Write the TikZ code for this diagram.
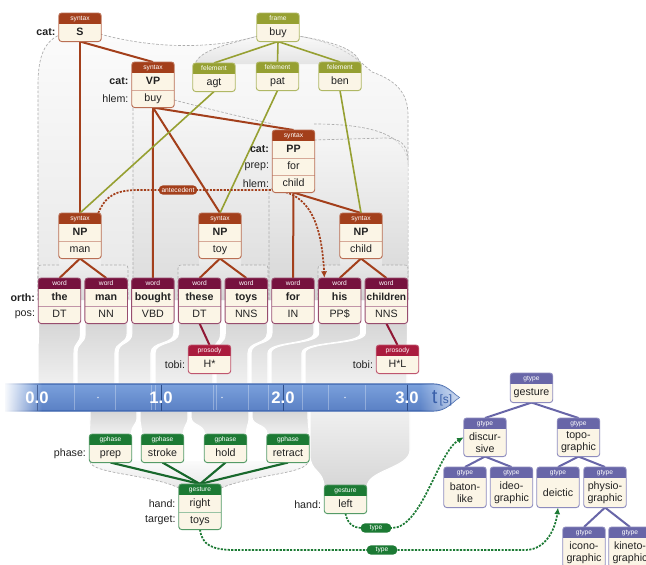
\documentclass[tikz,border=0pt]{standalone}
\usepackage{fontspec}
\setmainfont{Liberation Sans}
\usetikzlibrary{calc,arrows.meta,fadings}
\definecolor{synC}{RGB}{163,63,27}
\definecolor{frmC}{RGB}{150,160,50}
\definecolor{wrdC}{RGB}{118,18,62}
\definecolor{prsC}{RGB}{170,28,62}
\definecolor{gesC}{RGB}{28,122,52}
\definecolor{gtyC}{RGB}{104,102,168}
\definecolor{cream}{RGB}{251,245,230}
\definecolor{barTop}{RGB}{122,160,220}
\definecolor{barBot}{RGB}{90,128,196}
\definecolor{barLine}{RGB}{58,98,172}
\definecolor{tsC}{RGB}{58,96,170}
\definecolor{txtC}{RGB}{34,34,34}
\pgfdeclarelayer{bg}
\pgfdeclarelayer{lines}
\pgfsetlayers{bg,lines,main}
\tikzset{
 hdrtxt/.style={text=white, font=\fontsize{5}{5.5}\selectfont, inner sep=0pt},
 rowfix/.style={text height=6pt, text depth=1.7pt},
 rowtxt/.style={text=txtC, font=\fontsize{8}{9.2}\selectfont, inner sep=0pt, align=center, rowfix},
 lbl/.style={text=txtC, font=\fontsize{8}{9}\selectfont, inner sep=0pt, anchor=east},
 synE/.style={draw=synC, line width=1.5pt},
 prsE/.style={draw=prsC!85!black, line width=1.5pt},
 frmE/.style={draw=frmC, line width=1.2pt},
 gesE/.style={draw=gesC!85!black, line width=1.6pt},
 gtyE/.style={draw=gtyC, line width=1.5pt},
 dashA/.style={line width=1.3pt, dash pattern=on 1.6pt off 1pt, -{Latex[length=5pt,width=4.5pt]}},
 pill/.style={fill=#1, text=white, rounded corners=3.3pt, font=\fontsize{5}{5.5}\selectfont, inner sep=0pt, minimum height=7pt},
 regfill/.style={top color=gray!5, bottom color=gray!36, fill opacity=0.5, draw=none},
 regline/.style={draw=gray!65, line width=0.5pt, dash pattern=on 2pt off 1.3pt},
 bandst/.style={top color=gray!32, bottom color=gray!12, draw=white, line width=0.8pt},
 barnum/.style={text=white, font=\fontsize{12.5}{13}\selectfont\bfseries, inner sep=0pt},
}
\def\rowh{17}
\newcommand\mkbox[8][42]{%
 \pgfmathsetmacro\bxh{11+\rowh*#5}%
 \node[anchor=north, minimum width=#1*0.75pt, minimum height=\bxh*0.75pt, inner sep=0pt, fill=cream, rounded corners=2.2pt] (#2) at (#3,#4) {};
 \begin{scope}
  \clip[rounded corners=2.2pt] (#2.north west) rectangle (#2.south east);
  \fill[#6] (#2.north west) rectangle ([yshift=-8.25pt]#2.north east);
 \end{scope}
 \node[hdrtxt] (#2-h) at ([yshift=-4.2pt]#2.north) {#7};
 \foreach \rt [count=\ri] in {#8} {
   \pgfmathsetmacro\ry{(11+\rowh*(\ri-0.5))*0.75}
   \node[rowtxt] (#2-\ri) at ([yshift=-\ry pt]#2.north) {\rt};
   \ifnum\ri>1
     \pgfmathsetmacro\sy{(11+\rowh*(\ri-1))*0.75}
     \draw[#6!45, line width=0.5pt] ([yshift=-\sy pt]#2.north west) -- ([yshift=-\sy pt]#2.north east);
   \fi
 }
 \draw[#6!75, line width=0.7pt, rounded corners=2.2pt] (#2.north west) rectangle (#2.south east);
}
\newcommand\band[4]{%
 \path[bandst] (#1,323) -- (#1,333) .. controls (#1,345) and (#3,341) .. (#3,353) -- (#3,384) -- (#4,384) -- (#4,353) .. controls (#4,341) and (#2,345) .. (#2,333) -- (#2,323) -- cycle;}
\newcommand\pband[4]{%
 \path[bandst] (#3,411) -- (#3,417) .. controls (#3,426) and (#1,424) .. (#1,434) -- (#2,434) .. controls (#2,424) and (#4,426) .. (#4,417) -- (#4,411) -- cycle;}
\begin{document}
\begin{tikzpicture}[x=0.75pt,y=-0.75pt]
\useasboundingbox (0,0) rectangle (646,564);
\clip (0,0) rectangle (646,564);

% ---------------- background regions ----------------
\begin{pgfonlayer}{bg}
 \fill[white] (0,0) rectangle (646,564);
 % S region
 \path[regfill] (62,34) -- (100,34) .. controls (150,48) and (210,50) .. (258,36) -- (298,36) .. controls (345,44) and (360,62) .. (372,72) .. controls (395,80) and (408,92) .. (408,115) -- (408,300) -- (38,300) -- (38,85) .. controls (38,55) and (45,40) .. (62,34) -- cycle;
 \path[regline] (38,300) -- (38,85) .. controls (38,55) and (45,40) .. (62,34) (100,34) .. controls (150,48) and (210,50) .. (258,36) (298,36) .. controls (345,44) and (360,62) .. (372,72) .. controls (395,80) and (408,92) .. (408,115) -- (408,300);
 % frame region
 \path[regfill] (258,36) .. controls (225,45) and (200,50) .. (195,64) -- (360,64) .. controls (358,50) and (335,42) .. (298,36) -- cycle;
 \path[regline] (258,36) .. controls (225,45) and (200,50) .. (195,64) (360,64) .. controls (358,50) and (335,42) .. (298,36);
 % VP region
 \path[regfill] (133,100) -- (174,100) .. controls (220,112) and (255,120) .. (273,124) -- (314,124) .. controls (370,124) and (408,134) .. (408,165) -- (408,300) -- (133,300) -- cycle;
 \path[regline] (133,300) -- (133,100) (174,100) .. controls (220,112) and (255,120) .. (273,124) (314,124) .. controls (370,124) and (408,134) .. (408,165);
 % PP region
 \path[regfill] (273,185) -- (273,140) -- (314,140) -- (385,138) .. controls (400,138) and (408,145) .. (408,160) -- (408,300) -- (269,300) -- (269,192) -- cycle;
 \path[regline] (269,300) -- (269,192) -- (273,187) (314,140) -- (385,138) .. controls (400,138) and (408,145) .. (408,160);
 % NP regions
 \foreach \l/\a/\b/\r in {38/59/101/128, 178/199/241/268, 318/340/382/408}{
   \path[regfill] (\a,257) -- (\a,265) -- (\l+6,265) .. controls (\l,265) .. (\l,272) -- (\l,300) -- (\r,300) -- (\r,272) .. controls (\r,265) .. (\r-6,265) -- (\b,265) -- (\b,257) -- cycle;
   \path[regline] (\a,265) -- (\l+6,265) .. controls (\l,265) .. (\l,272) -- (\l,300) (\b,265) -- (\r-6,265) .. controls (\r,265) .. (\r,272) -- (\r,300);
 }
 % word bands (words -> time)
 \band{38.5}{80.5}{38}{74}
 \band{85.2}{127.2}{77}{115}
 \band{131.9}{173.9}{118}{151}
 \band{178.6}{220.6}{155}{213}
 \band{225.3}{267.3}{216}{248}
 \band{272}{314}{251}{268}
 \band{318.7}{360.7}{271}{302}
 \band{365.4}{407.4}{305}{407}
 % phase bands
 \pband{89.5}{131.5}{90}{137}
 \pband{141.5}{183.5}{140}{188}
 \pband{204.5}{246.5}{191}{249}
 \pband{267}{309}{252}{308}
 % gesture-right region
 \path[regfill] (90,461) .. controls (90,474) and (150,474) .. (179,488) -- (221,488) .. controls (255,474) and (308,474) .. (308,461) -- cycle;
 \path[regline] (90,461) .. controls (90,474) and (150,474) .. (179,488) (221,488) .. controls (255,474) and (308,474) .. (308,461);
 % gesture-left band
 \path[top color=gray!12, bottom color=gray!32, draw=white, line width=0.8pt] (310,411) -- (310,455) .. controls (310,472) and (324,470) .. (324,487) -- (367,487) .. controls (367,470) and (410,468) .. (410,450) -- (410,411) -- cycle;
 % time bar
 \path[top color=barTop, bottom color=barBot] (5,384) -- (433,384) .. controls (446,384) and (452,393) .. (459,397.5) .. controls (452,402) and (446,411) .. (433,411) -- (5,411) -- cycle;
 \draw[barLine, line width=0.9pt] (5,384) -- (433,384) .. controls (446,384) and (452,393) .. (459,397.5) .. controls (452,402) and (446,411) .. (433,411) -- (5,411);
 \foreach \bx in {74,115,151,155,213,216,248,268,302,328,365}{
   \draw[white, opacity=0.3, line width=0.5pt] (\bx,385) -- (\bx,410);
 }
 \foreach \tx in {37,161,283,407}{
   \draw[barLine!80!black, line width=0.7pt] (\tx,384.5) -- (\tx,410.5);
 }
 \foreach \dx in {98,222,345}{
   \fill[white, opacity=0.7] (\dx,397.5) circle (0.9);
 }
 \node[barnum] (t0) at (37,398) {0.0};
 \node[barnum] (t1) at (161,398) {1.0};
 \node[barnum] (t2) at (283,398) {2.0};
 \node[barnum] (t3) at (407,398) {3.0};
 \fill[white, path fading=east] (3,382) rectangle (42,413);
 \begin{scope}
  \clip (420,384) -- (433,384) .. controls (446,384) and (452,393) .. (459,397.5) .. controls (452,402) and (446,411) .. (433,411) -- (420,411) -- cycle;
  \fill[white, path fading=west, fill opacity=0.75] (420,382) rectangle (462,413);
 \end{scope}
 \node[text=tsC, inner sep=0pt] (tunit) at (442,398) {{\fontsize{15}{15}\selectfont t}\,{\fontsize{9}{9}\selectfont [s]}};
\end{pgfonlayer}

% ---------------- boxes ----------------
\mkbox{S}{80}{13}{1}{synC}{syntax}{\textbf{S}}
\mkbox{VP}{153}{62}{2}{synC}{syntax}{\textbf{VP},buy}
\mkbox{PP}{293.5}{130}{3}{synC}{syntax}{\textbf{PP},for,child}
\mkbox{NPm}{80}{213}{2}{synC}{syntax}{\textbf{NP},man}
\mkbox{NPt}{220}{213}{2}{synC}{syntax}{\textbf{NP},toy}
\mkbox{NPc}{361}{213}{2}{synC}{syntax}{\textbf{NP},child}
\mkbox{buy}{278}{13}{1}{frmC}{frame}{buy}
\mkbox{agt}{214}{63}{1}{frmC}{felement}{agt}
\mkbox{pat}{277.5}{62}{1}{frmC}{felement}{pat}
\mkbox{ben}{340}{62}{1}{frmC}{felement}{ben}
\mkbox{wThe}{59.5}{278}{2}{wrdC}{word}{\textbf{the},DT}
\mkbox{wMan}{106.2}{278}{2}{wrdC}{word}{\textbf{man},NN}
\mkbox{wBought}{152.9}{278}{2}{wrdC}{word}{\textbf{bought},VBD}
\mkbox{wThese}{199.6}{278}{2}{wrdC}{word}{\textbf{these},DT}
\mkbox{wToys}{246.3}{278}{2}{wrdC}{word}{\textbf{toys},NNS}
\mkbox{wFor}{293}{278}{2}{wrdC}{word}{\textbf{for},IN}
\mkbox{wHis}{339.7}{278}{2}{wrdC}{word}{\textbf{his},PP\$}
\mkbox{wChildren}{386.4}{278}{2}{wrdC}{word}{\textbf{\fontsize{7.6}{9}\selectfont children},NNS}
\mkbox{Hs}{209.5}{345}{1}{prsC}{prosody}{H*}
\mkbox{HsL}{397.5}{345}{1}{prsC}{prosody}{H*L}
\mkbox{prep}{110.5}{434}{1}{gesC}{gphase}{prep}
\mkbox{stroke}{162.5}{434}{1}{gesC}{gphase}{stroke}
\mkbox{hold}{225.5}{434}{1}{gesC}{gphase}{hold}
\mkbox{retract}{288}{434}{1}{gesC}{gphase}{retract}
\mkbox{gR}{200}{484}{2}{gesC}{gesture}{right,toys}
\mkbox{gL}{345.5}{485}{1}{gesC}{gesture}{left}
\def\rowh{18}
\mkbox{gtG}{531.5}{373}{1}{gtyC}{gtype}{gesture}
\tikzset{rowfix/.style={}}
\def\rowh{27}
\mkbox{gtDisc}{485}{418}{1}{gtyC}{gtype}{discur-\\sive}
\mkbox{gtTopo}{578.5}{418}{1}{gtyC}{gtype}{topo-\\graphic}
\def\rowh{29}
\mkbox{gtBaton}{465}{467}{1}{gtyC}{gtype}{baton-\\like}
\mkbox{gtIdeo}{511.5}{467}{1}{gtyC}{gtype}{ideo-\\graphic}
\mkbox{gtDei}{558}{467}{1}{gtyC}{gtype}{deictic}
\mkbox{gtPhys}{605}{467}{1}{gtyC}{gtype}{physio-\\graphic}
\mkbox{gtIcon}{584}{527}{1}{gtyC}{gtype}{icono-\\graphic}
\mkbox{gtKin}{630}{527}{1}{gtyC}{gtype}{kineto-\\graphic}

% ---------------- labels ----------------
\node[lbl] (lS1) at ($(S.west|-S-1)+(-3,0)$) {\textbf{cat:}};
\node[lbl] (lVP1) at ($(VP.west|-VP-1)+(-3,0)$) {\textbf{cat:}};
\node[lbl] (lVP2) at ($(VP.west|-VP-2)+(-3,0)$) {hlem:};
\node[lbl] (lPP1) at ($(PP.west|-PP-1)+(-3,0)$) {\textbf{cat:}};
\node[lbl] (lPP2) at ($(PP.west|-PP-2)+(-3,0)$) {prep:};
\node[lbl] (lPP3) at ($(PP.west|-PP-3)+(-3,0)$) {hlem:};
\node[lbl] (lW1) at ($(wThe.west|-wThe-1)+(-3,0)$) {\textbf{orth:}};
\node[lbl] (lW2) at ($(wThe.west|-wThe-2)+(-3,0)$) {pos:};
\node[lbl] (lH1) at ($(Hs.west|-Hs-1)+(-3,0)$) {tobi:};
\node[lbl] (lH2) at ($(HsL.west|-HsL-1)+(-3,0)$) {tobi:};
\node[lbl] (lPh) at ($(prep.west|-prep-1)+(-3,0)$) {phase:};
\node[lbl] (lGR1) at ($(gR.west|-gR-1)+(-3,0)$) {hand:};
\node[lbl] (lGR2) at ($(gR.west|-gR-2)+(-3,0)$) {target:};
\node[lbl] (lGL1) at ($(gL.west|-gL-1)+(-3,0)$) {hand:};

% pills
\node[pill=synC, minimum width=29pt] (ant) at (178,190) {antecedent};
\node[pill=gesC, minimum width=23pt] (type1) at (376,528) {type};
\node[pill=gesC, minimum width=23pt] (type2) at (382,550) {type};

% ---------------- connectors ----------------
\begin{pgfonlayer}{lines}
 \draw[synE] (S.south) -- (VP.north);
 \draw[synE] (S.south) -- (NPm.north);
 \draw[synE] (VP.south) -- (wBought.north);
 \draw[synE] (VP.south) -- (NPt.north);
 \draw[synE] (VP.south) -- (PP.north);
 \draw[synE] (PP.south) -- (wFor.north);
 \draw[synE] (PP.south) -- (NPc.north);
 \draw[synE] (NPm.south) -- (wThe.north);
 \draw[synE] (NPm.south) -- (wMan.north);
 \draw[synE] (NPt.south) -- (wThese.north);
 \draw[synE] (NPt.south) -- (wToys.north);
 \draw[synE] (NPc.south) -- (wHis.north);
 \draw[synE] (NPc.south) -- (wChildren.north);
 \draw[prsE] (wThese.south) -- (Hs.north);
 \draw[prsE] (wChildren.south) -- (HsL.north);
 \draw[frmE] (buy.south) -- (agt.north);
 \draw[frmE] (buy.south) -- (pat.north);
 \draw[frmE] (buy.south) -- (ben.north);
 \draw[frmE] (agt.south) -- (NPm.north);
 \draw[frmE] (pat.south) -- (NPt.north);
 \draw[frmE] (ben.south) -- (NPc.north);
 \foreach \p in {prep,stroke,hold,retract}{ \draw[gesE] (\p.south) -- (gR.north); }
 \draw[gtyE] (gtG.south) -- (gtDisc.north);
 \draw[gtyE] (gtG.south) -- (gtTopo.north);
 \draw[gtyE] (gtDisc.south) -- (gtBaton.north);
 \draw[gtyE] (gtDisc.south) -- (gtIdeo.north);
 \draw[gtyE] (gtTopo.south) -- (gtDei.north);
 \draw[gtyE] (gtTopo.south) -- (gtPhys.north);
 \draw[gtyE] (gtPhys.south) -- (gtIcon.north);
 \draw[gtyE] (gtPhys.south) -- (gtKin.north);
 \draw[dashA, draw=synC] ($(NPm.north east)+(-3,0)$) .. controls (106,195) and (116,190) .. (140,190) -- (270,190) .. controls (315,190) and (322,235) .. ($(wHis.north west)+(6,0)$);
 \draw[dashA, draw=gesC] (gR.south) .. controls (202,545) and (212,550) .. (235,550) -- (525,550) .. controls (548,550) and (556,525) .. (gtDei.south);
 \draw[dashA, draw=gesC] (gL.south) .. controls (347,522) and (352,528) .. (362,528) -- (392,528) .. controls (422,528) and (438,452) .. (gtDisc.west);
\end{pgfonlayer}
\end{tikzpicture}
\end{document}
